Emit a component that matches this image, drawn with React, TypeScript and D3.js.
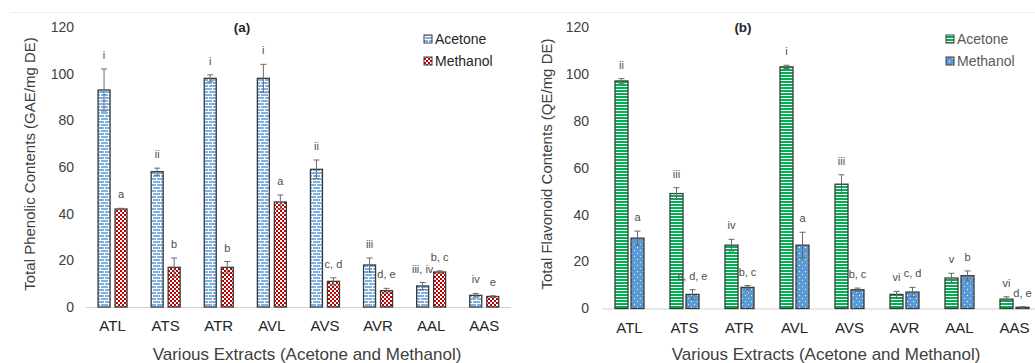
import React from "react";
import * as d3 from "d3";

const categories = ["ATL", "ATS", "ATR", "AVL", "AVS", "AVR", "AAL", "AAS"];
const seriesNames = ["Acetone", "Methanol"];

// Panel (a): Total phenolic contents
const phenolAcetone = [93, 58, 98, 98, 59, 18, 9, 5];
const phenolAcetoneErr = [9, 1.5, 1.5, 6, 4, 3, 1.5, 0.8];
const phenolMethanol = [42, 17, 17, 45, 11, 7, 15, 4.5];
const phenolMethanolErr = [0.3, 4, 2.5, 3, 1.5, 1, 0.5, 0.3];
const phenolAcetoneLetters = ["i", "ii", "i", "i", "ii", "iii", "iii, iv", "iv"];
const phenolMethanolLetters = ["a", "b", "b", "a", "c, d", "d, e", "b, c", "e"];

// Panel (b): Total flavonoid contents
const flavAcetone = [97, 49, 27, 103, 53, 6, 13, 4];
const flavAcetoneErr = [1, 2.5, 2.5, 0.7, 4, 1.3, 2, 1];
const flavMethanol = [30, 6, 9, 27, 8, 7, 14, 0.5];
const flavMethanolErr = [3, 2, 0.8, 5.5, 0.7, 2, 2, 0.3];
const flavAcetoneLetters = ["ii", "iii", "iv", "i", "iii", "vi", "v", "vi"];
const flavMethanolLetters = ["a", "c, d, e", "b, c", "a", "b, c", "c, d", "b", "d, e"];

const yTicks = [0, 20, 40, 60, 80, 100, 120];

const FONT = "'Liberation Sans', Arial, Helvetica, sans-serif";

type PanelProps = {
  title: string;
  yTitle: string;
  left: number;
  band: number;
  y0: number;
  y120: number;
  tickRight: number;
  yTitleX: number;
  titleX: number;
  legendX: number;
  legendColor: string;
  innerGap: number;
  barW: number;
  values: number[][];
  errs: number[][];
  letters: string[][];
  fills: string[];
  xTitleX: number;
};

function Panel(p: PanelProps) {
  const x = d3
    .scaleBand<string>()
    .domain(categories)
    .range([p.left, p.left + p.band * categories.length])
    .paddingInner(0)
    .paddingOuter(0);
  const half = p.barW + p.innerGap / 2;
  const step = p.barW + p.innerGap;
  const xs = d3
    .scaleBand<string>()
    .domain(seriesNames)
    .range([-half, half])
    .paddingInner(p.innerGap / step)
    .paddingOuter(0);
  const y = d3.scaleLinear().domain([0, 120]).range([p.y0, p.y120]);
  const axisEnd = p.left + p.band * categories.length;
  return (
    <g fontFamily={FONT}>
      <line x1={p.left} x2={axisEnd} y1={p.y0 + 0.5} y2={p.y0 + 0.5} stroke="#d0d0d0" strokeWidth={1} />
      {yTicks.map((t) => (
        <text key={t} x={p.tickRight} y={y(t)} dy="0.35em" textAnchor="end" fontSize={14} fill="#404040">
          {t}
        </text>
      ))}
      {categories.map((c) => (
        <text key={c} x={(x(c) as number) + p.band / 2} y={p.y0 + 24} textAnchor="middle" fontSize={15} fill="#262626">
          {c}
        </text>
      ))}
      {seriesNames.map((s, si) =>
        categories.map((c, ci) => {
          const v = p.values[si][ci];
          const e = p.errs[si][ci];
          const cx = (x(c) as number) + p.band / 2;
          const bx = cx + (xs(s) as number);
          const bw = xs.bandwidth();
          const mid = bx + bw / 2;
          return (
            <g key={s + c}>
              <rect x={bx} y={y(v)} width={bw} height={y(0) - y(v)} fill={p.fills[si]} stroke="#3a3a3a" strokeWidth={1.3} />
              <line x1={mid} x2={mid} y1={y(v + e)} y2={y(Math.max(0, v - e))} stroke="#6a6a6a" strokeWidth={1} />
              <line x1={mid - 3} x2={mid + 3} y1={y(v + e)} y2={y(v + e)} stroke="#6a6a6a" strokeWidth={1} />
              <line x1={mid - 3} x2={mid + 3} y1={y(Math.max(0, v - e))} y2={y(Math.max(0, v - e))} stroke="#6a6a6a" strokeWidth={1} />
              <text x={mid} y={y(v + e) - 10} textAnchor="middle" fontSize={11} fill="#4d4d4d">
                {p.letters[si][ci]}
              </text>
            </g>
          );
        })
      )}
      <text x={p.titleX} y={32} textAnchor="middle" fontSize={13.5} fontWeight="bold" fill="#262626">
        {p.title}
      </text>
      <text
        transform={`translate(${p.yTitleX},${164}) rotate(-90)`}
        textAnchor="middle"
        dy="0.35em"
        fontSize={15}
        fill="#404040"
      >
        {p.yTitle}
      </text>
      <text x={p.xTitleX} y={360} textAnchor="middle" fontSize={17} fill="#404040">
        Various Extracts (Acetone and Methanol)
      </text>
      {seriesNames.map((s, si) => (
        <g key={s}>
          <rect x={p.legendX - 4} y={35 + si * 22} width={8} height={8} fill={p.fills[si]} stroke="#3a3a3a" strokeWidth={1} />
          <text x={p.legendX + 7} y={39 + si * 22} dy="0.35em" fontSize={14} fill={p.legendColor}>
            {s}
          </text>
        </g>
      ))}
    </g>
  );
}

export default function App() {
  return (
    <svg
      width={1035}
      height={363}
      style={{ position: "absolute", left: 0, top: 0, background: "#fff" }}
    >
      <defs>
        <pattern id="brickBlue" width={8} height={6} patternUnits="userSpaceOnUse">
          <rect width={8} height={6} fill="#7fb1e3" />
          <rect x={0} y={0} width={8} height={1} fill="#ffffff" />
          <rect x={0} y={3} width={8} height={1} fill="#ffffff" />
          <rect x={0} y={1} width={1} height={2} fill="#ffffff" />
          <rect x={4} y={4} width={1} height={2} fill="#ffffff" />
        </pattern>
        <pattern id="checkRed" width={4} height={4} patternUnits="userSpaceOnUse">
          <rect width={4} height={4} fill="#c00000" />
          <rect x={0} y={0} width={2} height={2} fill="#ffffff" />
          <rect x={2} y={2} width={2} height={2} fill="#ffffff" />
        </pattern>
        <pattern id="stripeGreen" width={4} height={3} patternUnits="userSpaceOnUse">
          <rect width={4} height={3} fill="#00b050" />
          <rect x={0} y={2} width={4} height={1} fill="#ffffff" />
        </pattern>
        <pattern id="dotBlue" width={6} height={6} patternUnits="userSpaceOnUse">
          <rect width={6} height={6} fill="#5b9bd5" />
          <rect x={1} y={1} width={1} height={1} fill="#ffffff" />
          <rect x={4} y={4} width={1} height={1} fill="#dbe9f6" />
        </pattern>
      </defs>
      <rect width={1035} height={363} fill="#ffffff" />
      <line x1={10} x2={1035} y1={12.5} y2={12.5} stroke="#eeeeee" strokeWidth={1} />
      <Panel
        title="(a)"
        yTitle="Total Phenolic Contents (GAE/mg DE)"
        left={86}
        band={53.1}
        y0={307}
        y120={27}
        tickRight={74}
        yTitleX={30}
        titleX={242}
        legendX={428}
        legendColor="#262626"
        innerGap={5}
        barW={12}
        values={[phenolAcetone, phenolMethanol]}
        errs={[phenolAcetoneErr, phenolMethanolErr]}
        letters={[phenolAcetoneLetters, phenolMethanolLetters]}
        fills={["url(#brickBlue)", "url(#checkRed)"]}
        xTitleX={307}
      />
      <Panel
        title="(b)"
        yTitle="Total Flavonoid Contents (QE/mg DE)"
        left={602}
        band={55}
        y0={308.5}
        y120={27}
        tickRight={589}
        yTitleX={547}
        titleX={743}
        legendX={950}
        legendColor="#595959"
        innerGap={3}
        barW={13}
        values={[flavAcetone, flavMethanol]}
        errs={[flavAcetoneErr, flavMethanolErr]}
        letters={[flavAcetoneLetters, flavMethanolLetters]}
        fills={["url(#stripeGreen)", "url(#dotBlue)"]}
        xTitleX={826}
      />
    </svg>
  );
}
